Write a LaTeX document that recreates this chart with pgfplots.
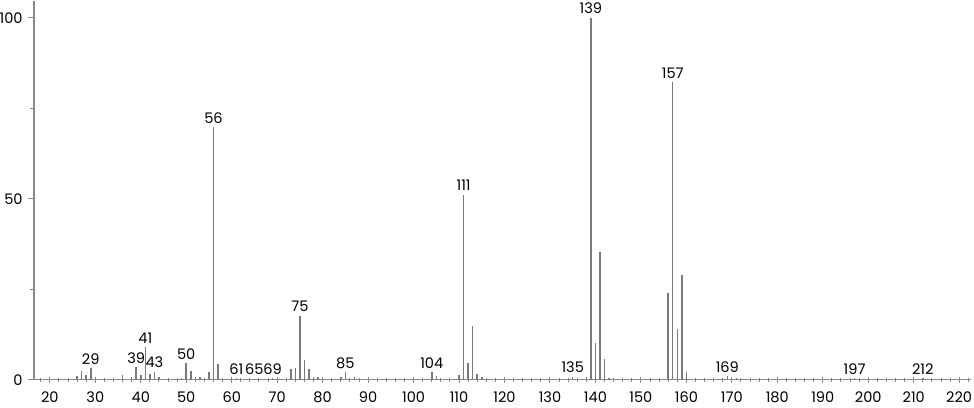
\documentclass[border=0pt]{standalone}
\usepackage{pgfplots}
\pgfplotsset{compat=1.18}
\usepackage{pgfplotstable}
\usepackage{fontspec}
\setmainfont{Poppins}[Numbers=Proportional]
\definecolor{barc}{HTML}{7A7A7A}
\definecolor{axc}{HTML}{8A8A8A}
\pgfplotstableread{
mz int
26 1.0
27 2.5
28 1.3
36 1.2
38 0.8
40 1.2
42 1.5
44 0.7
49 0.5
51 2.5
52 0.6
53 0.6
55 2.2
57 4.4
60 0.3
73 3.0
74 3.2
76 5.5
77 3.0
78 0.8
79 0.8
84 0.8
87 0.6
105 1.0
110 1.3
112 4.5
113 14.8
114 1.5
115 0.6
138 0.6
140 10.2
141 35.2
142 5.6
143 0.5
156 24.0
158 13.9
159 29.0
160 2.2
171 0.5
}\others
\pgfplotstableread{
mz int
29 3.1
39 3.4
41 9.0
43 2.2
50 4.6
56 69.7
61 0.5
65 0.3
69 0.4
75 17.7
85 2.1
104 2.1
111 51.1
135 0.8
139 100
157 82.2
169 1.0
197 0.4
212 0.4
}\labeled
\begin{document}
\begin{tikzpicture}
\begin{axis}[
  scale only axis,
  width=469.5pt, height=189.5pt,
  xmin=16.5, xmax=222.6, ymin=0, ymax=104.5,
  axis x line=bottom, axis y line=left,
  axis line style={axc, line width=0.6pt, -},
  xtick={20,30,...,220},
  minor xtick={18,22,24,26,28,32,34,36,38,42,44,46,48,52,54,56,58,62,64,66,68,72,74,76,78,82,84,86,88,92,94,96,98,102,104,106,108,112,114,116,118,122,124,126,128,132,134,136,138,142,144,146,148,152,154,156,158,162,164,166,168,172,174,176,178,182,184,186,188,192,194,196,198,202,204,206,208,212,214,216,218,222},
  ytick={0,50,100}, minor ytick={25,75},
  tick align=outside,
  major tick length=3pt, minor tick length=2pt,
  every tick/.style={axc, line width=0.5pt},
  x tick style={/pgfplots/tick align=center},
  tick label style={font=\fontsize{7.3}{8}\selectfont, text=black, inner sep=0pt, text height=5.4pt, text depth=0pt},
  xticklabel style={anchor=north, yshift=-3pt},
  yticklabel style={anchor=east, xshift=-2.5pt},
  /pgf/number format/assume math mode=true,
  /pgf/number format/1000 sep={},
  clip=false,
]
\addplot[ycomb, barc, line width=0.75pt, mark=none] table[x=mz,y=int]{\others};
\addplot[ycomb, barc, line width=0.75pt, mark=none,
  point meta=x, nodes near coords,
  nodes near coords style={font=\fontsize{7.3}{8}\selectfont, text=black, anchor=south, inner sep=1.5pt, text height=5.4pt, text depth=0pt, /pgf/number format/precision=0, /pgf/number format/assume math mode=true}]
  table[x=mz,y=int]{\labeled};
\end{axis}
\pgfresetboundingbox
\path[use as bounding box] (-17pt,-14pt) rectangle (471pt,190.2pt);
\end{tikzpicture}
\end{document}
